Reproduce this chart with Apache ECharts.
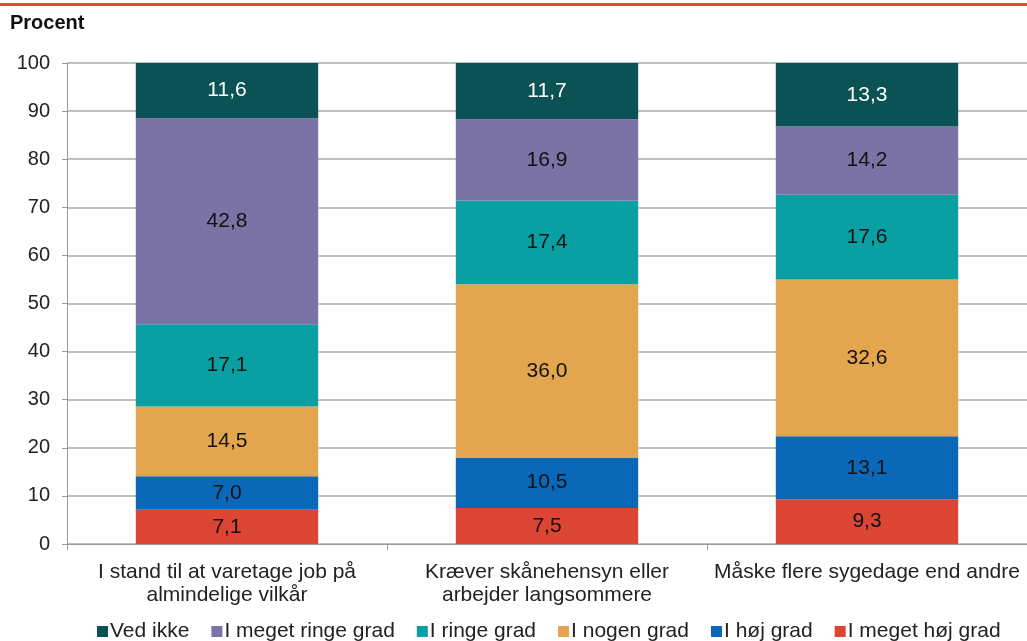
<!DOCTYPE html>
<html>
<head>
<meta charset="utf-8">
<script src="https://cdn.jsdelivr.net/npm/echarts@6/dist/echarts.min.js"></script>
<style>
  html, body { margin: 0; padding: 0; background: #fff; }
  #chart { width: 1027px; height: 641px; }
</style>
</head>
<body>
<div id="chart"></div>
<script>
// kategorier og værdier (procent)
const categories = ['I stand til at varetage job på\nalmindelige vilkår', 'Kræver skånehensyn eller\narbejder langsommere', 'Måske flere sygedage end andre']
const seriesNames = ['I meget høj grad', 'I høj grad', 'I nogen grad', 'I ringe grad', 'I meget ringe grad', 'Ved ikke']
const megetHoej = [7.1, 7.5, 9.3]
const hoej = [7.0, 10.5, 13.1]
const nogen = [14.5, 36.0, 32.6]
const ringe = [17.1, 17.4, 17.6]
const megetRinge = [42.8, 16.9, 14.2]
const vedIkke = [11.6, 11.7, 13.3]

const values = [megetHoej, hoej, nogen, ringe, megetRinge, vedIkke]
const colors = ['#dc4434', '#0b68b8', '#e3a64e', '#0aa0a3', '#7b72a6', '#0a5254']
const labelColors = ['#111', '#111', '#111', '#111', '#111', '#fff']

const chart = echarts.init(document.getElementById('chart'))

const option = {
  animation: false,
  backgroundColor: '#fff',
  textStyle: { fontFamily: 'Liberation Sans, Arial, sans-serif' },
  title: {
    text: 'Procent',
    left: 5,
    top: 8,
    textStyle: { fontSize: 20, fontWeight: 'bold', color: '#111' }
  },
  graphic: [{
    type: 'rect',
    left: 0,
    top: 3,
    shape: { width: 1027, height: 3 },
    style: { fill: '#e8473a' }
  }],
  grid: { left: 67, right: -3, top: 63, bottom: 97, containLabel: false },
  legend: {
    data: seriesNames.slice().reverse(),
    left: 92,
    top: 616,
    itemWidth: 11,
    itemHeight: 11,
    itemGap: 22,
    icon: 'rect',
    textStyle: { fontSize: 21, color: '#222', padding: [0, 0, 0, -3] }
  },
  xAxis: {
    type: 'category',
    data: categories,
    axisLine: { lineStyle: { color: '#999' } },
    axisTick: { show: true, interval: 0, length: 6, lineStyle: { color: '#999' } },
    axisLabel: { interval: 0, color: '#222', fontSize: 21, lineHeight: 23, margin: 17 }
  },
  yAxis: {
    type: 'value',
    min: 0,
    max: 100,
    interval: 10,
    axisLine: { show: true, lineStyle: { color: '#999' } },
    axisTick: { show: true, length: 5, lineStyle: { color: '#999' } },
    axisLabel: { color: '#222', fontSize: 20, margin: 17 },
    splitLine: { lineStyle: { color: '#aaa', width: 1.5 } }
  },
  series: seriesNames.map((name, i) => ({
    name,
    type: 'bar',
    stack: 'total',
    barWidth: '57%',
    data: values[i],
    itemStyle: { color: colors[i] },
    label: {
      show: true,
      position: 'inside',
      color: labelColors[i],
      fontSize: 21,
      formatter: (p) => p.value.toFixed(1).replace('.', ',')
    }
  }))
}

chart.setOption(option)
</script>
</body>
</html>
